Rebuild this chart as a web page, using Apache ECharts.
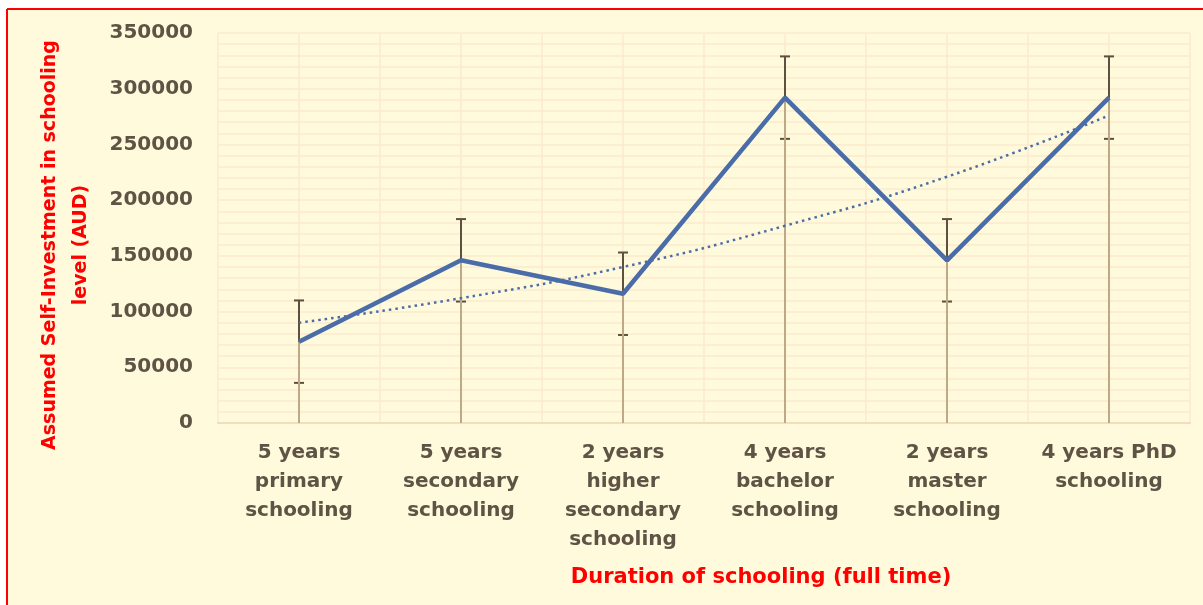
<!DOCTYPE html>
<html>
<head>
<meta charset="utf-8">
<script src="https://cdn.jsdelivr.net/npm/echarts@6/dist/echarts.min.js"></script>
<style>
  html, body { margin: 0; padding: 0; background: #fff; overflow: hidden; }
  #main { width: 1203px; height: 605px; }
</style>
</head>
<body>
<div id="main"></div>
<script>
// categories on x axis
const categories = [
  '5 years\nprimary\nschooling',
  '5 years\nsecondary\nschooling',
  '2 years\nhigher\nsecondary\nschooling',
  '4 years\nbachelor\nschooling',
  '2 years\nmaster\nschooling',
  '4 years PhD\nschooling'
];
// assumed self-investment (AUD)
const investment = [73000, 146000, 116000, 292000, 146000, 292000];
// fixed error bar size
const errorMargin = [37000, 37000, 37000, 37000, 37000, 37000];
// exponential trendline at each category
const trend = [90000, 112000, 140000, 177000, 221000, 276000];
// y axis ticks
const yTicks = [0, 50000, 100000, 150000, 200000, 250000, 300000, 350000];

const font = 'DejaVu Sans';
const gridColor = '#FCEACD';
const textColor = '#5E5344';

let myChart = echarts.init(document.getElementById('main'));

let errorData = investment.map((v, i) => [i, v + errorMargin[i], v - errorMargin[i]]);

myChart.setOption({
  backgroundColor: '#fff',
  animation: false,
  graphic: [
    // chart area fill, border only on top and left (rest is cut off)
    {
      type: 'rect', z: -100, silent: true,
      shape: { x: 7, y: 9, width: 1196, height: 596 },
      style: { fill: '#FFFADC' }
    },
    {
      type: 'line', z: -99, silent: true,
      shape: { x1: 7, y1: 9, x2: 1203, y2: 9 },
      style: { stroke: '#FF0000', lineWidth: 2 }
    },
    {
      type: 'line', z: -99, silent: true,
      shape: { x1: 7, y1: 9, x2: 7, y2: 605 },
      style: { stroke: '#FF0000', lineWidth: 2 }
    },
    {
      type: 'text', x: 66, y: 245, rotation: Math.PI / 2,
      style: {
        text: 'Assumed Self-Investment in schooling\nlevel (AUD)',
        fill: '#FF0000', font: 'bold 19px "DejaVu Sans"',
        align: 'center', verticalAlign: 'middle', lineHeight: 31
      }
    },
    {
      type: 'text', x: 761, y: 578,
      style: {
        text: 'Duration of schooling (full time)',
        fill: '#FF0000', font: 'bold 21px "DejaVu Sans"',
        align: 'center', verticalAlign: 'middle'
      }
    }
  ],
  grid: { left: 218, right: 13, top: 33, bottom: 182 },
  xAxis: [
    {
      type: 'category',
      data: categories,
      boundaryGap: true,
      axisLine: { show: true, lineStyle: { color: '#F2DDBD', width: 2 } },
      axisTick: { show: false },
      splitLine: { show: false },
      axisLabel: {
        interval: 0, margin: 15,
        color: textColor, fontFamily: font, fontWeight: 'bold',
        fontSize: 20, lineHeight: 29, align: 'center'
      }
    },
    {
      // only used for the vertical grid (boundaries + centres)
      type: 'value', min: 0, max: 12, interval: 1, position: 'bottom',
      axisLine: { show: false }, axisTick: { show: false }, axisLabel: { show: false },
      splitLine: { show: true, lineStyle: { color: gridColor, width: 1.5 } }
    }
  ],
  yAxis: {
    type: 'value',
    min: yTicks[0], max: yTicks[yTicks.length - 1], interval: 50000,
    axisLine: { show: false }, axisTick: { show: false },
    axisLabel: {
      margin: 25, color: textColor, fontFamily: font, fontWeight: 'bold', fontSize: 20,
      formatter: function (v) { return String(v); }
    },
    splitLine: { show: true, lineStyle: { color: gridColor, width: 1.5 } },
    minorTick: { show: false, splitNumber: 5 },
    minorSplitLine: { show: true, lineStyle: { color: gridColor, width: 1.5 } }
  },
  series: [
    {
      name: 'error',
      type: 'custom',
      z: 2,
      data: errorData,
      encode: { x: 0, y: [1, 2] },
      renderItem: function (params, api) {
        let top = api.coord([api.value(0), api.value(1)]);
        let bot = api.coord([api.value(0), api.value(2)]);
        let half = 5;
        let st = { stroke: '#5E5040', lineWidth: 2 };
        return {
          type: 'group',
          children: [
            { type: 'line', shape: { x1: top[0], y1: top[1], x2: bot[0], y2: bot[1] }, style: st },
            { type: 'line', shape: { x1: top[0] - half, y1: top[1], x2: top[0] + half, y2: top[1] }, style: st },
            { type: 'line', shape: { x1: bot[0] - half, y1: bot[1], x2: bot[0] + half, y2: bot[1] }, style: st }
          ]
        };
      }
    },
    {
      // drop lines from each point to the axis
      name: 'drop',
      type: 'bar',
      z: 3,
      barWidth: 2,
      data: investment,
      itemStyle: { color: '#BEA987' }
    },
    {
      name: 'investment',
      type: 'line',
      z: 4,
      data: investment,
      symbol: 'none',
      lineStyle: { color: '#4A6DAA', width: 4.5 }
    },
    {
      name: 'trend',
      type: 'line',
      z: 5,
      data: trend,
      smooth: true,
      symbol: 'none',
      lineStyle: { color: '#4A6DAA', width: 2.5, type: [2.5, 4] }
    }
  ]
});
</script>
</body>
</html>
